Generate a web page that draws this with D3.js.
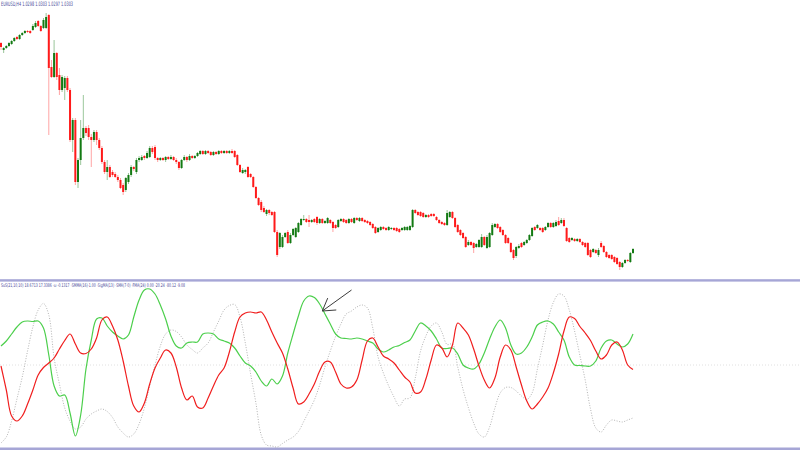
<!DOCTYPE html>
<html><head><meta charset="utf-8">
<script src="https://cdn.jsdelivr.net/npm/d3@7/dist/d3.min.js"></script>
<style>html,body{margin:0;padding:0;background:#fff;}svg{display:block;}</style>
</head><body>
<svg id="chart" width="800" height="450"></svg>
<script>
// ---- DATA (price in chart points, oscillator values every 2 bars) ----
const chartTitle = "EURUSD,H4  1.0298 1.0303 1.0297 1.0303";
const oscTitle = "SuS(21,10,10) 18.6713 17.3386  \u00b7\u03c9 -0.1317  \u00b7SMMA(16)\u00b71.00 \u00b7SigMA(13) \u00b7SMA(7\u00b70) \u00b7FMA(24) 0.00 \u00b720.24 \u00b780.12 \u00b79.08";
const opens = [257,250,252,254,256,259,263,261,265,267,269,269,270,273,279,274,272,272,285,233,223,247,225,210,212,222,210,160,180,118,140,162,172,172,163,160,168,160,152,138,128,133,128,126,123,120,115,110,118,125,133,128,140,140,144,142,143,152,153,142,140,142,140,143,141,143,140,138,132,140,143,140,144,142,144,146,149,146,149,148,145,148,146,149,147,149,147,149,149,145,135,127,128,133,126,123,113,102,98,92,86,90,88,88,68,53,53,63,68,57,65,63,68,75,80,81,80,78,81,83,77,81,77,77,80,78,75,73,79,81,80,77,81,77,82,79,82,80,79,78,76,73,68,70,73,72,70,71,72,72,71,70,70,70,70,73,90,88,88,87,83,85,86,86,83,80,78,77,75,83,88,82,75,70,67,63,55,58,57,53,53,53,63,52,53,65,73,76,73,70,65,62,57,50,44,52,57,55,57,60,64,73,72,72,72,70,73,77,73,74,79,77,80,72,62,60,61,59,61,58,57,57,50,48,50,45,57,54,48,45,45,43,42,38,33,37,40,38,47];
const highs = [258,253,255,258,260,263,264,266,268,270,270,270,276,279,280,275,282,287,286,240,260,248,232,225,224,224,212,182,182,142,180,205,174,175,166,170,170,162,154,140,140,135,130,128,125,122,117,123,127,135,134,142,144,145,145,149,154,154,155,143,143,143,144,144,145,144,142,139,141,145,144,146,145,145,148,150,150,150,150,149,149,149,150,150,150,150,150,151,150,146,136,132,131,134,127,124,114,103,100,94,91,91,89,89,70,68,65,68,70,67,72,73,78,82,85,82,85,81,82,84,82,82,80,83,81,79,76,81,82,82,81,82,82,83,83,83,83,81,80,79,77,74,73,74,74,73,74,73,73,73,72,73,74,74,75,91,91,89,89,88,86,86,87,87,84,81,79,78,90,89,89,83,76,71,68,64,60,59,58,57,61,66,64,65,68,77,77,77,74,71,66,63,58,51,54,56,58,59,61,66,73,74,76,73,73,74,78,78,78,80,83,82,82,73,63,63,62,62,62,59,58,58,51,52,51,52,59,55,49,46,46,44,43,39,38,41,41,48,52];
const lows = [250,247,251,253,255,258,260,260,264,266,267,266,269,272,273,268,271,271,165,222,222,220,205,208,200,208,158,148,115,112,135,160,164,160,133,158,155,150,136,126,120,122,123,122,118,111,105,108,116,123,129,126,138,139,140,141,142,146,140,138,139,139,138,140,140,139,136,130,131,139,138,139,141,141,143,145,145,145,146,144,144,145,145,146,146,146,146,146,142,134,127,126,126,122,122,112,101,94,88,87,84,85,84,67,43,51,52,62,56,56,64,62,67,74,79,77,73,77,77,75,76,76,76,76,76,68,71,72,78,77,76,76,77,76,79,78,78,77,76,74,71,66,67,69,70,69,69,70,69,68,67,69,69,69,69,72,86,84,83,82,82,82,83,83,79,76,75,74,74,82,81,72,67,64,61,52,54,54,47,52,52,52,54,51,52,64,72,71,67,64,56,56,47,40,42,51,52,54,56,59,63,69,71,69,67,69,72,72,72,73,74,76,73,58,57,59,58,58,57,54,52,44,42,47,46,43,52,47,42,41,40,37,35,30,32,36,38,37,46];
const closes = [253,252,254,257,259,262,261,265,267,269,268,267,274,277,274,269,280,283,232,223,247,223,210,223,222,210,160,180,118,140,162,172,167,163,160,168,160,152,138,128,133,123,125,123,120,112,108,122,125,133,131,140,142,143,142,147,152,148,142,140,142,140,143,141,143,140,138,132,140,143,140,144,142,144,147,149,146,149,147,145,148,146,149,147,149,147,149,147,143,135,128,130,130,123,123,113,102,95,90,88,90,87,85,68,45,67,63,67,57,65,71,72,77,81,81,78,78,80,78,77,81,77,79,82,77,72,72,80,81,78,77,81,78,82,80,82,79,78,77,75,72,67,72,73,71,70,73,72,70,69,68,72,73,73,74,90,87,85,84,83,85,83,84,84,80,77,76,75,87,88,82,73,68,65,62,53,58,55,52,56,60,63,55,63,67,75,76,72,68,65,57,57,48,42,53,54,53,58,60,65,72,70,75,70,68,73,77,73,77,78,75,80,74,59,58,62,59,61,58,55,53,45,43,51,47,50,53,48,43,42,41,38,36,33,37,40,39,47,51];
const greenLine = [19,24,31,38,43,44,43.5,44,37,10,-21,-31,-30,-48,-71,-50,-4,25,46,47,39,33,29,26,30,48,65,75,76,71,60,46,29,19,17,22,23,23,31,32,31,26,24,22,17,9,2,-1,-7,-16,-21,-14,-19,-11,12,31,49,64,69,67.5,61,51,41,31,27,26.5,26,27,26,24,22,16,13,15,18,19.5,22.5,25,34,42,39,34,26,17,16.5,17,11,0,-3,-4,1,12,26,38,45,37,20,11,12,18,28,40,43,44,41,33,25,8,0,-0.5,-1,-1,4,17,24,25,21,18,21,31];
const redLine = [-1,-25,-51,-56,-51,-39,-25,-10,-2.5,2,7,16,24.5,31,21,12,11.5,16,27,45,48,39,25,4,-21,-41,-47,-38,-19,-3,7,15,12,-2,-23,-35,-31,-42,-43,-33,-21,-10,-3,13,33,48,52,53,52,53,45,33,22,12,-4,-23,-39,-37,-29,-19,-6,3,3,-7,-19,-23,-22,-15,5,24,27,18,9,6,2,-5,-12,-17,-28,-27,-14,5,20,17,8,20,42,37,30,16,-1,-15,-23,-13,8,20,15,-2,-20,-36,-44,-39,-32,-23,-8,11,34,48,46.5,38.5,32,24.5,14,6,10,20,23,15,0,-4.5];
const grayLine = [-78,-72,-56,-34,-12,14,38,55,61.5,50,7,-19,-43,-56,-64,-62,-54,-49,-46,-44,-46.5,-52.5,-62,-68,-72,-69,-59,-43,-21,0,19,31,35,33.5,28,20,15.5,12,17,22,33,44,55,59.5,60.5,48,22,-9,-38,-70,-80,-81,-82,-78.5,-75,-72,-66.5,-56.5,-46,-35,-20,-2,14,28.5,41,51,54,58,60,57,37,8,-8,-21,-32,-41,-34,-33,-13,14,29,39,42,33,20.5,21,-2,-24.5,-42.5,-58,-69,-72,-62,-43,-28,-22.5,-22.5,-26,-31,-34.5,-28,-4,20,45,62.5,71,69,55,34,9.5,-15,-44,-63,-67,-60,-55,-56,-57,-55,-53];
const oscStep = 2; // oscillator sampled every 2 bars
const arrowFromBar = 132, arrowFromVal = 75, arrowToBar = 121, arrowToVal = 54;

// ---- DRAW ----
const svg = d3.select("#chart");
const W = 800, H = 450;
const x = d3.scaleLinear().domain([0, closes.length - 1]).range([1, 633]);
const yP = d3.scaleLinear().domain([0, 300]).range([300, 0]);
const yO = d3.scaleLinear().domain([-83, 82]).range([448, 283]);

svg.append("rect").attr("width", W).attr("height", H).attr("fill", "#fff");

const bars = closes.map((c, i) => ({i, o: opens[i], h: highs[i], l: lows[i], c}));
const up = "#137a13", dn = "#ff1a1a";
const g = svg.append("g");
g.selectAll("line.wick").data(bars).join("line")
  .attr("x1", d => x(d.i)).attr("x2", d => x(d.i))
  .attr("y1", d => yP(d.h)).attr("y2", d => yP(d.l))
  .attr("stroke", d => d.c >= d.o ? "#8fbf8f" : "#ff9a9a").attr("stroke-width", 0.9);
g.selectAll("rect.body").data(bars).join("rect")
  .attr("x", d => x(d.i) - 1).attr("width", 2)
  .attr("y", d => yP(Math.max(d.o, d.c)))
  .attr("height", d => Math.max(1, Math.abs(yP(d.o) - yP(d.c))))
  .attr("fill", d => d.c >= d.o ? up : dn);

svg.append("text").attr("x", 1).attr("y", 6).text(chartTitle)
  .attr("font-family", "DejaVu Sans, sans-serif").attr("font-size", 6)
  .attr("fill", "#4a4a9a").attr("textLength", 72).attr("lengthAdjust", "spacingAndGlyphs");

// separator and bottom border
svg.append("rect").attr("x", 0).attr("y", 279.2).attr("width", W).attr("height", 2.4).attr("fill", "#a6a6d6");
svg.append("rect").attr("x", 0).attr("y", 447.5).attr("width", W).attr("height", 2.5).attr("fill", "#a6a6d6");

// zero line
svg.append("line").attr("x1", 0).attr("x2", W).attr("y1", yO(0)).attr("y2", yO(0))
  .attr("stroke", "#d8d8d8").attr("stroke-width", 0.8).attr("stroke-dasharray", "1,2");

svg.append("text").attr("x", 1).attr("y", 286.5).text(oscTitle)
  .attr("font-family", "DejaVu Sans, sans-serif").attr("font-size", 5)
  .attr("fill", "#4a4a9a").attr("textLength", 184).attr("lengthAdjust", "spacingAndGlyphs");

const line = d3.line().x((d, k) => x(k * oscStep)).y(d => yO(d)).curve(d3.curveCatmullRom.alpha(0.5));
svg.append("path").attr("d", line(grayLine)).attr("fill", "none")
  .attr("stroke", "#b4b4b4").attr("stroke-width", 1).attr("stroke-dasharray", "1,1.6");
svg.append("path").attr("d", line(greenLine)).attr("fill", "none")
  .attr("stroke", "#4ccf4c").attr("stroke-width", 1.2);
svg.append("path").attr("d", line(redLine)).attr("fill", "none")
  .attr("stroke", "#f01e1e").attr("stroke-width", 1.2);

// arrow annotation
const ax1 = x(arrowFromBar), ay1 = yO(arrowFromVal), ax2 = x(arrowToBar), ay2 = yO(arrowToVal);
const ang = Math.atan2(ay1 - ay2, ax1 - ax2);
const ag = svg.append("g").attr("stroke", "#3c3c3c").attr("stroke-width", 1).attr("fill", "none");
ag.append("line").attr("x1", ax1).attr("y1", ay1).attr("x2", ax2).attr("y2", ay2);
[-0.55, 0.55].forEach(da => {
  ag.append("line").attr("x1", ax2).attr("y1", ay2)
    .attr("x2", ax2 + 14 * Math.cos(ang + da)).attr("y2", ay2 + 14 * Math.sin(ang + da));
});
</script>
</body></html>
